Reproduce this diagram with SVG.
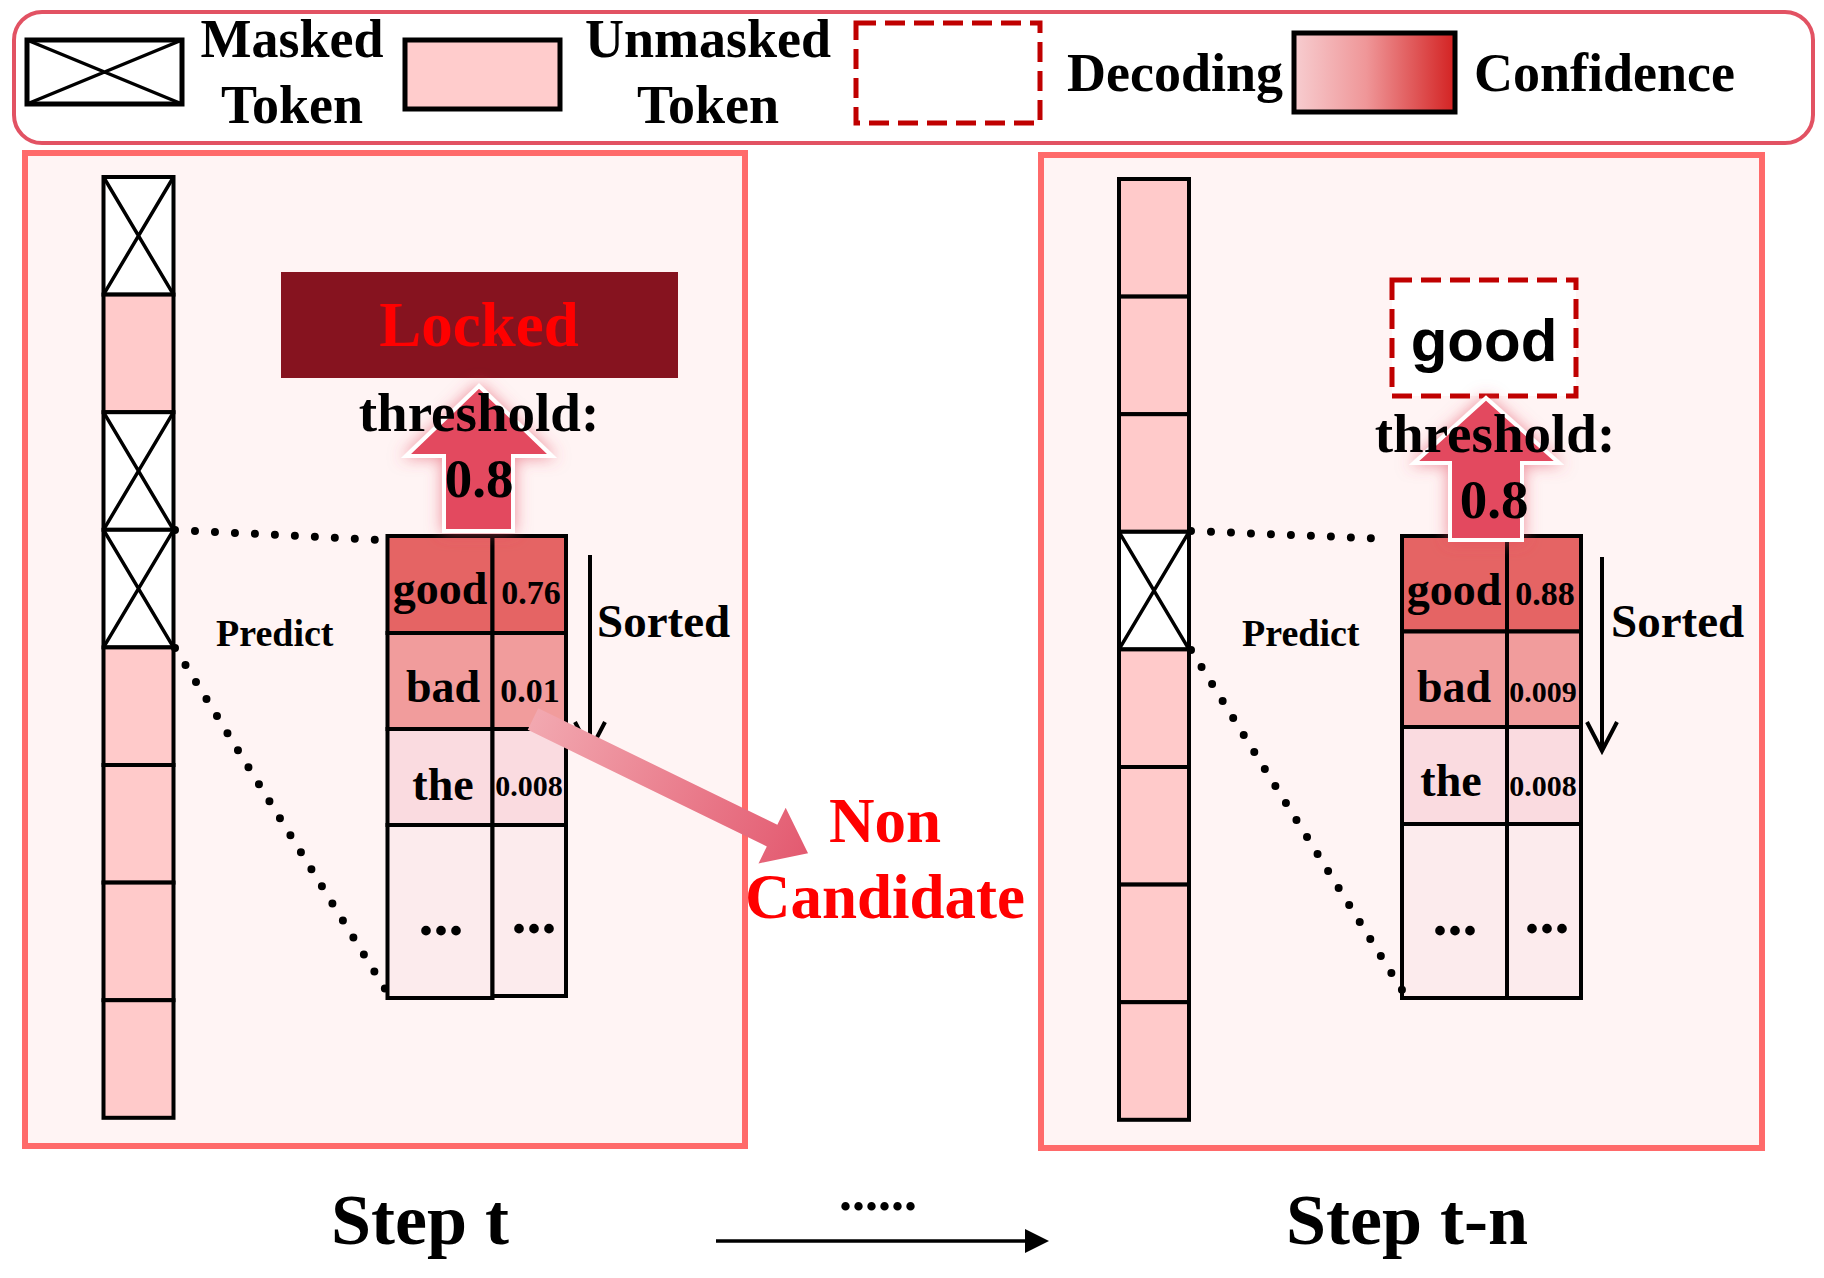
<svg xmlns="http://www.w3.org/2000/svg" width="1824" height="1278" viewBox="0 0 1824 1278">
<style>
.s{font-family:"Liberation Serif","Times New Roman",serif;font-weight:bold;fill:#000}
.m{text-anchor:middle}
.lg{font-size:54px}
.panel{fill:#fff4f4;stroke:#ff6a6a;stroke-width:6}
.cell{stroke:#000;stroke-width:4}
.um{fill:#ffcaca}
.mk{fill:#fff}
.x{stroke:#000;stroke-width:3.5;fill:none}
.tb{stroke:#000;stroke-width:4}
.r1{fill:#e56464}
.r2{fill:#f19c9c}
.r3{fill:#fadbe0}
.r4{fill:#fcebed}
.w{font-size:46px}
.n{font-size:34px}
.ns{font-size:30px}
.dots{font-size:60px}
.pr{font-size:38px}
.th{font-size:55px}
.so{font-size:47px}
.dot{stroke:#000;stroke-width:8;stroke-linecap:round;stroke-dasharray:0 20;fill:none}
.dash{fill:#fff;stroke:#c00000;stroke-width:5;stroke-dasharray:20 9}
.up{fill:#e3495e;stroke:#fff;stroke-width:4;filter:url(#glow)}
.ln{stroke:#000;stroke-width:4;fill:none}
</style>
<defs>
<linearGradient id="conf" x1="0" y1="0" x2="1" y2="0">
<stop offset="0" stop-color="#f7cdd0"/>
<stop offset="0.45" stop-color="#ef9698"/>
<stop offset="1" stop-color="#d32222"/>
</linearGradient>
<linearGradient id="pk" gradientUnits="userSpaceOnUse" x1="0" y1="0" x2="306" y2="0">
<stop offset="0" stop-color="#f2a8b0"/>
<stop offset="1" stop-color="#e35a70"/>
</linearGradient>
<filter id="glow" x="-50%" y="-50%" width="200%" height="200%">
<feDropShadow dx="0" dy="0" stdDeviation="8" flood-color="#e3495e" flood-opacity="0.6"/>
</filter>
</defs>
<rect width="1824" height="1278" fill="#fff"/>

<g id="legend">
<rect x="14" y="12" width="1799" height="131" rx="28" fill="#fff" stroke="#e25263" stroke-width="4"/>
<rect x="27" y="40" width="155" height="64" fill="#fff" stroke="#000" stroke-width="5"/>
<path class="x" d="M27 40L182 104M182 40L27 104" stroke-width="4"/>
<text class="s m lg" x="292" y="57">Masked</text>
<text class="s m lg" x="292" y="123">Token</text>
<rect x="405" y="40" width="155" height="69" fill="#ffcccc" stroke="#000" stroke-width="5"/>
<text class="s m lg" x="708" y="57">Unmasked</text>
<text class="s m lg" x="708" y="123">Token</text>
<rect class="dash" x="856" y="23" width="184" height="100"/>
<text class="s lg" x="1067" y="91">Decoding</text>
<rect x="1294" y="33" width="161" height="79" fill="url(#conf)" stroke="#000" stroke-width="5"/>
<text class="s lg" x="1474" y="91">Confidence</text>
</g>

<g id="panel-step-t">
<rect class="panel" x="25" y="153" width="720" height="993"/>
<g id="seq-left">
<rect class="cell mk" x="103.5" y="177" width="70" height="117.6"/>
<path class="x" d="M103.5 177L173.5 294.6M173.5 177L103.5 294.6"/>
<rect class="cell um" x="103.5" y="294.6" width="70" height="117.6"/>
<rect class="cell mk" x="103.5" y="412.2" width="70" height="117.6"/>
<path class="x" d="M103.5 412.2L173.5 529.8M173.5 412.2L103.5 529.8"/>
<rect class="cell mk" x="103.5" y="529.8" width="70" height="117.6"/>
<path class="x" d="M103.5 529.8L173.5 647.4M173.5 529.8L103.5 647.4"/>
<rect class="cell um" x="103.5" y="647.4" width="70" height="117.6"/>
<rect class="cell um" x="103.5" y="765" width="70" height="117.6"/>
<rect class="cell um" x="103.5" y="882.6" width="70" height="117.6"/>
<rect class="cell um" x="103.5" y="1000.2" width="70" height="117.6"/>
</g>
<text class="s pr" x="216" y="646">Predict</text>
<g id="table-left">
<rect class="tb r1" x="387.5" y="536" width="105" height="97"/>
<rect class="tb r1" x="492.5" y="536" width="73.5" height="97"/>
<rect class="tb r2" x="387.5" y="633" width="105" height="96"/>
<rect class="tb r2" x="492.5" y="633" width="73.5" height="96"/>
<rect class="tb r3" x="387.5" y="729" width="105" height="96"/>
<rect class="tb r3" x="492.5" y="729" width="73.5" height="96"/>
<rect class="tb r4" x="387.5" y="825" width="105" height="173"/>
<rect class="tb r4" x="492.5" y="825" width="73.5" height="171"/>
<text class="s w m" x="440" y="604">good</text>
<text class="s n m" x="531" y="604">0.76</text>
<text class="s w m" x="443" y="702">bad</text>
<text class="s n m" x="530" y="702">0.01</text>
<text class="s w m" x="443" y="800">the</text>
<text class="s ns m" x="529" y="796">0.008</text>
<text class="s dots m" x="441" y="935">...</text>
<text class="s dots m" x="534" y="933">...</text>
</g>
<text class="s so" x="597" y="637">Sorted</text>
<g id="locked">
<rect x="281" y="272" width="397" height="106" fill="#86131f"/>
<text class="s m" x="479" y="346" font-size="63" style="fill:#ff0000">Locked</text>
</g>
<polygon class="up" points="479,386 552,456 513,456 513,531 444,531 444,456 406,456"/>
<text class="s th m" x="479" y="431">threshold:</text>
<text class="s th m" x="479" y="497">0.8</text>
</g>

<g id="panel-step-t-n">
<rect class="panel" x="1041" y="155" width="721" height="993"/>
<g id="seq-right">
<rect class="cell um" x="1119" y="179" width="70" height="117.6"/>
<rect class="cell um" x="1119" y="296.6" width="70" height="117.6"/>
<rect class="cell um" x="1119" y="414.2" width="70" height="117.6"/>
<rect class="cell mk" x="1119" y="531.8" width="70" height="117.6"/>
<path class="x" d="M1119 531.8L1189 649.4M1189 531.8L1119 649.4"/>
<rect class="cell um" x="1119" y="649.4" width="70" height="117.6"/>
<rect class="cell um" x="1119" y="767" width="70" height="117.6"/>
<rect class="cell um" x="1119" y="884.6" width="70" height="117.6"/>
<rect class="cell um" x="1119" y="1002.2" width="70" height="117.6"/>
</g>
<text class="s pr" x="1242" y="646">Predict</text>
<g id="table-right">
<rect class="tb r1" x="1402" y="536" width="105" height="95.5"/>
<rect class="tb r1" x="1507" y="536" width="74" height="95.5"/>
<rect class="tb r2" x="1402" y="631.5" width="105" height="95.5"/>
<rect class="tb r2" x="1507" y="631.5" width="74" height="95.5"/>
<rect class="tb r3" x="1402" y="727" width="105" height="97"/>
<rect class="tb r3" x="1507" y="727" width="74" height="97"/>
<rect class="tb r4" x="1402" y="824" width="105" height="174"/>
<rect class="tb r4" x="1507" y="824" width="74" height="174"/>
<text class="s w m" x="1454" y="605">good</text>
<text class="s n m" x="1545" y="605">0.88</text>
<text class="s w m" x="1454" y="702">bad</text>
<text class="s ns m" x="1543" y="702">0.009</text>
<text class="s w m" x="1451" y="796">the</text>
<text class="s ns m" x="1543" y="796">0.008</text>
<text class="s dots m" x="1455" y="935">...</text>
<text class="s dots m" x="1547" y="933">...</text>
</g>
<text class="s so" x="1611" y="637">Sorted</text>
<g id="decoding-good">
<rect class="dash" x="1392" y="280" width="184" height="116" stroke-dasharray="22 8"/>
<text x="1484" y="361" text-anchor="middle" font-family="'Liberation Sans',Arial,sans-serif" font-weight="bold" font-size="60" fill="#000">good</text>
</g>
<polygon class="up" points="1486,398 1559,463 1522,463 1522,540 1450,540 1450,463 1414,463"/>
<text class="s th m" x="1495" y="452">threshold:</text>
<text class="s th m" x="1494" y="518">0.8</text>
</g>

<g id="connectors">
<path class="dot" d="M175 530L382 540"/>
<path class="dot" d="M175 648L387 992"/>
<path class="dot" d="M1191 531L1390 539"/>
<path class="dot" d="M1191 650L1402 990"/>
<path class="ln" d="M590 555V750M575 722L590 751L605 722"/>
<path class="ln" d="M1602 557V750M1587 722L1602 751L1617 722"/>
<polygon transform="translate(533 719) rotate(26)" fill="url(#pk)" points="0,-12 266,-12 266,-31 306,0 266,31 266,12 0,12"/>
<path d="M716 1241H1027" stroke="#000" stroke-width="3.5"/>
<polygon points="1025,1229 1049,1241 1025,1253" fill="#000"/>
</g>

<g id="labels">
<text class="s m" x="885" y="842" font-size="63" style="fill:#ff0000">Non</text>
<text class="s m" x="885" y="918" font-size="63" style="fill:#ff0000">Candidate</text>
<text class="s m" x="420" y="1244" font-size="72">Step t</text>
<text class="s m" x="1407" y="1244" font-size="72">Step t-n</text>
<text class="s m" x="878" y="1210" font-size="52">......</text>
</g>
</svg>
